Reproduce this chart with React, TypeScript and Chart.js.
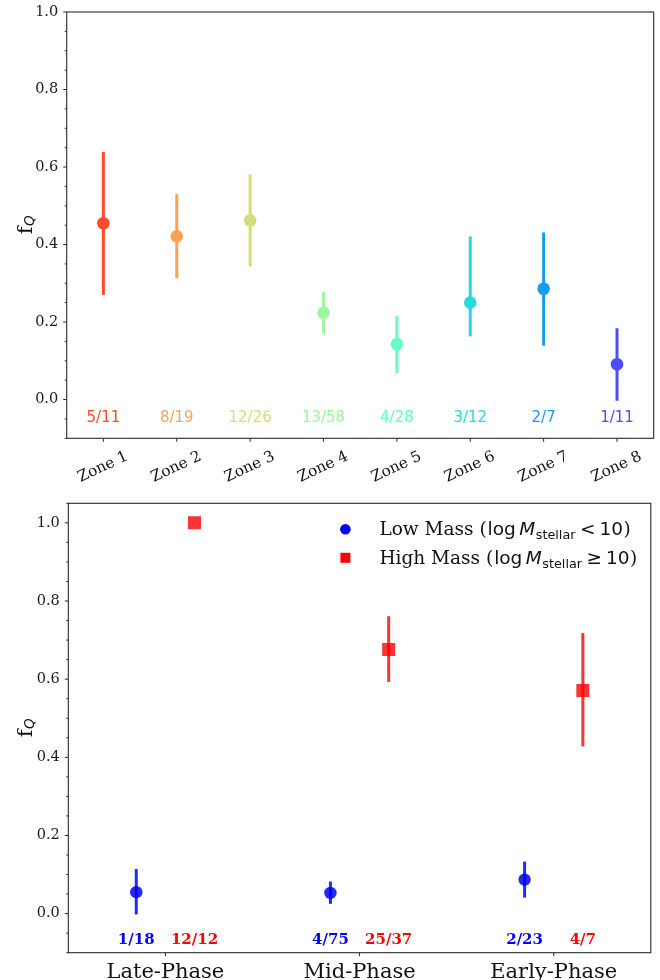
import React, { useEffect, useRef } from 'react';
import { Chart, registerables } from 'chart.js';

Chart.register(...registerables);

// ---------- Top panel data ----------
const zones = ['Zone 1', 'Zone 2', 'Zone 3', 'Zone 4', 'Zone 5', 'Zone 6', 'Zone 7', 'Zone 8'];
const zoneFq = [0.455, 0.421, 0.462, 0.224, 0.143, 0.25, 0.286, 0.091];
const zoneLow = [0.27, 0.313, 0.344, 0.17, 0.068, 0.163, 0.139, -0.003];
const zoneHigh = [0.639, 0.53, 0.581, 0.278, 0.216, 0.421, 0.431, 0.184];
const zoneCounts = ['5/11', '8/19', '12/26', '13/58', '4/28', '3/12', '2/7', '1/11'];
const zoneColors = ['#ff4b2a', '#ffa055', '#d6dc7c', '#9ef79e', '#66fcc4', '#2ad8de', '#169def', '#4c4cfa'];
const zoneYTicks = [0.0, 0.2, 0.4, 0.6, 0.8, 1.0];

// ---------- Bottom panel data ----------
const phases = ['Late-Phase', 'Mid-Phase', 'Early-Phase'];
const lowFq = [0.055, 0.053, 0.087];
const lowLo = [-0.002, 0.025, 0.041];
const lowHi = [0.114, 0.082, 0.133];
const highFq = [1.0, 0.676, 0.571];
const highLo = [1.0, 0.593, 0.428];
const highHi = [1.0, 0.761, 0.718];
const lowCounts = ['1/18', '4/75', '2/23'];
const highCounts = ['12/12', '25/37', '4/7'];
const phaseYTicks = [0.0, 0.2, 0.4, 0.6, 0.8, 1.0];

const TOP_ANNOT_Y = -0.048;
const BOTTOM_ANNOT_Y = -0.067;
const PHASE_OFFSET = 0.15;

const LOW_COLOR = 'rgba(0,0,255,0.85)';
const HIGH_COLOR = 'rgba(255,0,0,0.8)';
const SPINE = '#2a2a2a';
const SERIF = "'DejaVu Serif', serif";
const SANS = "'DejaVu Sans', sans-serif";

const isMajor = (v: number, list: number[]) => list.some((m) => Math.abs(m - v) < 1e-6);

function yAxis(min: number, max: number, width: number, majors: number[]) {
  return {
    min,
    max,
    afterFit: (s: any) => {
      s.width = width;
      s.paddingTop = 0;
      s.paddingBottom = 0;
    },
    grid: { display: false, drawTicks: false },
    border: { display: false },
    ticks: {
      stepSize: 0.05,
      maxTicksLimit: 100,
      autoSkip: false,
      padding: 8.5,
      color: '#1a1a1a',
      font: { family: SERIF, size: 14.5 },
      callback: (v: any) => (isMajor(Number(v), majors) ? Math.abs(Number(v)).toFixed(1) : ''),
    },
  };
}

function drawYTicks(chart: any, majors: number[]) {
  const { ctx, chartArea } = chart;
  const ys = chart.scales.y;
  ctx.save();
  ctx.strokeStyle = SPINE;
  ctx.lineWidth = 1;
  ys.ticks.forEach((t: any) => {
    const major = isMajor(t.value, majors);
    const p = ys.getPixelForValue(t.value);
    const len = major ? 3.5 : 2;
    ctx.beginPath();
    ctx.moveTo(chartArea.left - len, p);
    ctx.lineTo(chartArea.left, p);
    ctx.stroke();
  });
  ctx.restore();
}

function drawSpines(chart: any) {
  const { ctx, chartArea } = chart;
  ctx.save();
  ctx.strokeStyle = SPINE;
  ctx.lineWidth = 1.1;
  ctx.strokeRect(chartArea.left, chartArea.top, chartArea.right - chartArea.left, chartArea.bottom - chartArea.top);
  ctx.restore();
}

function drawYTitle(chart: any, x: number) {
  const { ctx, chartArea } = chart;
  const cy = (chartArea.top + chartArea.bottom) / 2;
  ctx.save();
  ctx.translate(x, cy);
  ctx.rotate(-Math.PI / 2);
  ctx.fillStyle = '#111';
  ctx.textBaseline = 'alphabetic';
  ctx.textAlign = 'left';
  ctx.font = `21px ${SERIF}`;
  const fw = ctx.measureText('f').width;
  ctx.font = `italic 13.5px ${SANS}`;
  const qw = ctx.measureText('Q').width;
  const start = -(fw + qw) / 2;
  ctx.font = `21px ${SERIF}`;
  ctx.fillText('f', start, 0);
  ctx.font = `italic 13.5px ${SANS}`;
  ctx.fillText('Q', start + fw + 0.5, 2);
  ctx.restore();
}

function ZoneChart() {
  const ref = useRef<HTMLCanvasElement | null>(null);
  useEffect(() => {
    if (!ref.current) return;
    const plugin = {
      id: 'zoneDecor',
      beforeDatasetsDraw(chart: any) {
        const { ctx } = chart;
        const xs = chart.scales.x;
        const ys = chart.scales.y;
        ctx.save();
        ctx.lineWidth = 3;
        ctx.lineCap = 'butt';
        zones.forEach((_, i) => {
          const x = xs.getPixelForValue(i);
          ctx.strokeStyle = zoneColors[i];
          ctx.beginPath();
          ctx.moveTo(x, ys.getPixelForValue(zoneLow[i]));
          ctx.lineTo(x, ys.getPixelForValue(zoneHigh[i]));
          ctx.stroke();
        });
        ctx.restore();
      },
      afterDraw(chart: any) {
        const { ctx, chartArea } = chart;
        const xs = chart.scales.x;
        const ys = chart.scales.y;
        drawSpines(chart);
        drawYTicks(chart, zoneYTicks);
        // annotations
        ctx.save();
        ctx.font = `15px ${SANS}`;
        ctx.textAlign = 'center';
        ctx.textBaseline = 'middle';
        zones.forEach((_, i) => {
          ctx.fillStyle = zoneColors[i];
          ctx.fillText(zoneCounts[i], xs.getPixelForValue(i), ys.getPixelForValue(TOP_ANNOT_Y));
        });
        ctx.restore();
        // x ticks and rotated labels
        ctx.save();
        ctx.strokeStyle = SPINE;
        ctx.lineWidth = 1;
        ctx.fillStyle = '#111';
        ctx.font = `15.3px ${SERIF}`;
        const ang = (25 * Math.PI) / 180;
        zones.forEach((z, i) => {
          const x = xs.getPixelForValue(i);
          ctx.beginPath();
          ctx.moveTo(x, chartArea.bottom);
          ctx.lineTo(x, chartArea.bottom + 3.5);
          ctx.stroke();
          ctx.save();
          ctx.translate(x - 1, chartArea.bottom + 27.5);
          ctx.rotate(-ang);
          ctx.textAlign = 'center';
          ctx.textBaseline = 'alphabetic';
          ctx.fillText(z, 0, 5.4);
          ctx.restore();
        });
        ctx.restore();
        drawYTitle(chart, 32);
      },
    };
    const chart = new Chart(ref.current, {
      type: 'line',
      data: {
        labels: zones,
        datasets: [
          {
            data: zoneFq,
            showLine: false,
            pointRadius: 6.3,
            pointHoverRadius: 6.3,
            pointBorderWidth: 0,
            pointBackgroundColor: zoneColors,
            pointBorderColor: zoneColors,
          },
        ],
      },
      options: {
        responsive: false,
        maintainAspectRatio: false,
        animation: false,
        devicePixelRatio: 1,
        events: [],
        layout: { padding: { left: 0, right: 5.3, top: 12, bottom: 0 } },
        plugins: { legend: { display: false }, tooltip: { enabled: false } },
        scales: {
          x: {
            type: 'category',
            offset: true,
            afterFit: (s: any) => {
              s.height = 51.7;
              s.paddingLeft = 0;
              s.paddingRight = 0;
            },
            grid: { display: false, drawTicks: false },
            border: { display: false },
            ticks: { display: false },
          },
          y: yAxis(-0.1, 1.0, 66.7, zoneYTicks) as any,
        },
      },
      plugins: [plugin],
    } as any);
    return () => chart.destroy();
  }, []);
  return <canvas ref={ref} width={660} height={490} style={{ display: 'block', width: 660, height: 490 }} />;
}

function drawMathLine(ctx: any, x: number, y: number, prefix: string, rel: string) {
  const segs = [
    { t: prefix, f: `18.5px ${SERIF}`, dy: 0, gap: 0 },
    { t: 'log', f: `18.5px ${SANS}`, dy: 0, gap: 1 },
    { t: 'M', f: `italic 18.5px ${SANS}`, dy: 0, gap: 3.5 },
    { t: 'stellar', f: `12.8px ${SANS}`, dy: 4, gap: 0.5 },
    { t: rel, f: `18.5px ${SANS}`, dy: 0, gap: 4.5 },
    { t: '10', f: `18.5px ${SANS}`, dy: 0, gap: 4 },
    { t: ')', f: `18.5px ${SERIF}`, dy: 0, gap: 0.5 },
  ];
  let cx = x;
  segs.forEach((s) => {
    cx += s.gap;
    ctx.font = s.f;
    ctx.fillText(s.t, cx, y + s.dy);
    cx += ctx.measureText(s.t).width;
  });
}

function PhaseChart() {
  const ref = useRef<HTMLCanvasElement | null>(null);
  useEffect(() => {
    if (!ref.current) return;
    const plugin = {
      id: 'phaseDecor',
      beforeDatasetsDraw(chart: any) {
        const { ctx } = chart;
        const xs = chart.scales.x;
        const ys = chart.scales.y;
        ctx.save();
        ctx.lineWidth = 3;
        ctx.lineCap = 'butt';
        phases.forEach((_, i) => {
          const xl = xs.getPixelForValue(i - PHASE_OFFSET);
          ctx.strokeStyle = LOW_COLOR;
          ctx.beginPath();
          ctx.moveTo(xl, ys.getPixelForValue(lowLo[i]));
          ctx.lineTo(xl, ys.getPixelForValue(lowHi[i]));
          ctx.stroke();
          if (highHi[i] > highLo[i]) {
            const xh = xs.getPixelForValue(i + PHASE_OFFSET);
            ctx.strokeStyle = HIGH_COLOR;
            ctx.beginPath();
            ctx.moveTo(xh, ys.getPixelForValue(highLo[i]));
            ctx.lineTo(xh, ys.getPixelForValue(highHi[i]));
            ctx.stroke();
          }
        });
        ctx.restore();
      },
      afterDraw(chart: any) {
        const { ctx, chartArea } = chart;
        const xs = chart.scales.x;
        const ys = chart.scales.y;
        drawSpines(chart);
        drawYTicks(chart, phaseYTicks);
        // count annotations
        ctx.save();
        ctx.font = `bold 15px ${SERIF}`;
        ctx.textAlign = 'center';
        ctx.textBaseline = 'middle';
        phases.forEach((_, i) => {
          const y = ys.getPixelForValue(BOTTOM_ANNOT_Y);
          ctx.fillStyle = '#0000ff';
          ctx.fillText(lowCounts[i], xs.getPixelForValue(i - PHASE_OFFSET), y);
          ctx.fillStyle = '#ff0000';
          ctx.fillText(highCounts[i], xs.getPixelForValue(i + PHASE_OFFSET), y);
        });
        ctx.restore();
        // x ticks + labels
        ctx.save();
        ctx.strokeStyle = SPINE;
        ctx.lineWidth = 1;
        ctx.fillStyle = '#111';
        ctx.font = `21px ${SERIF}`;
        ctx.textAlign = 'center';
        ctx.textBaseline = 'alphabetic';
        phases.forEach((p, i) => {
          const x = xs.getPixelForValue(i);
          ctx.beginPath();
          ctx.moveTo(x, chartArea.bottom);
          ctx.lineTo(x, chartArea.bottom + 3.5);
          ctx.stroke();
          ctx.fillText(p, x, chartArea.bottom + 25.3);
        });
        ctx.restore();
        // legend
        ctx.save();
        const lx = chartArea.right - 305.4;
        const l1 = chartArea.top + 26;
        const l2 = l1 + 28.5;
        ctx.fillStyle = '#0000ff';
        ctx.beginPath();
        ctx.arc(lx, l1, 5.3, 0, Math.PI * 2);
        ctx.fill();
        ctx.fillStyle = '#ff0000';
        ctx.fillRect(lx - 5, l2 - 5, 10, 10);
        ctx.fillStyle = '#111';
        ctx.textAlign = 'left';
        ctx.textBaseline = 'alphabetic';
        drawMathLine(ctx, lx + 34, l1 + 5.7, 'Low Mass (', '<');
        drawMathLine(ctx, lx + 34, l2 + 5.7, 'High Mass (', '\u2265');
        ctx.restore();
        drawYTitle(chart, 32);
      },
    };
    const chart = new Chart(ref.current, {
      type: 'scatter',
      data: {
        datasets: [
          {
            label: 'Low Mass',
            data: phases.map((_, i) => ({ x: i - PHASE_OFFSET, y: lowFq[i] })),
            pointStyle: 'circle',
            pointRadius: 6.2,
            pointHoverRadius: 6.2,
            pointBorderWidth: 0,
            pointBackgroundColor: LOW_COLOR,
            pointBorderColor: LOW_COLOR,
          },
          {
            label: 'High Mass',
            data: phases.map((_, i) => ({ x: i + PHASE_OFFSET, y: highFq[i] })),
            pointStyle: 'rect',
            pointRadius: 9.2,
            pointHoverRadius: 9.2,
            pointBorderWidth: 0,
            pointBackgroundColor: HIGH_COLOR,
            pointBorderColor: HIGH_COLOR,
          },
        ],
      },
      options: {
        responsive: false,
        maintainAspectRatio: false,
        animation: false,
        devicePixelRatio: 1,
        events: [],
        layout: { padding: { left: 0, right: 5.3, top: 13.3, bottom: 0 } },
        plugins: { legend: { display: false }, tooltip: { enabled: false } },
        scales: {
          x: {
            type: 'linear',
            min: -0.5,
            max: phases.length - 0.5,
            afterFit: (s: any) => {
              s.height = 27.3;
              s.paddingLeft = 0;
              s.paddingRight = 0;
            },
            grid: { display: false, drawTicks: false },
            border: { display: false },
            ticks: { display: false, stepSize: 1 },
          },
          y: yAxis(-0.1, 1.05, 68.3, phaseYTicks) as any,
        },
      },
      plugins: [plugin],
    } as any);
    return () => chart.destroy();
  }, []);
  return <canvas ref={ref} width={660} height={490} style={{ display: 'block', width: 660, height: 490 }} />;
}

export default function App() {
  return (
    <div style={{ position: 'absolute', left: 0, top: 0, width: 660, height: 980, background: '#fff' }}>
      <ZoneChart />
      <PhaseChart />
    </div>
  );
}
